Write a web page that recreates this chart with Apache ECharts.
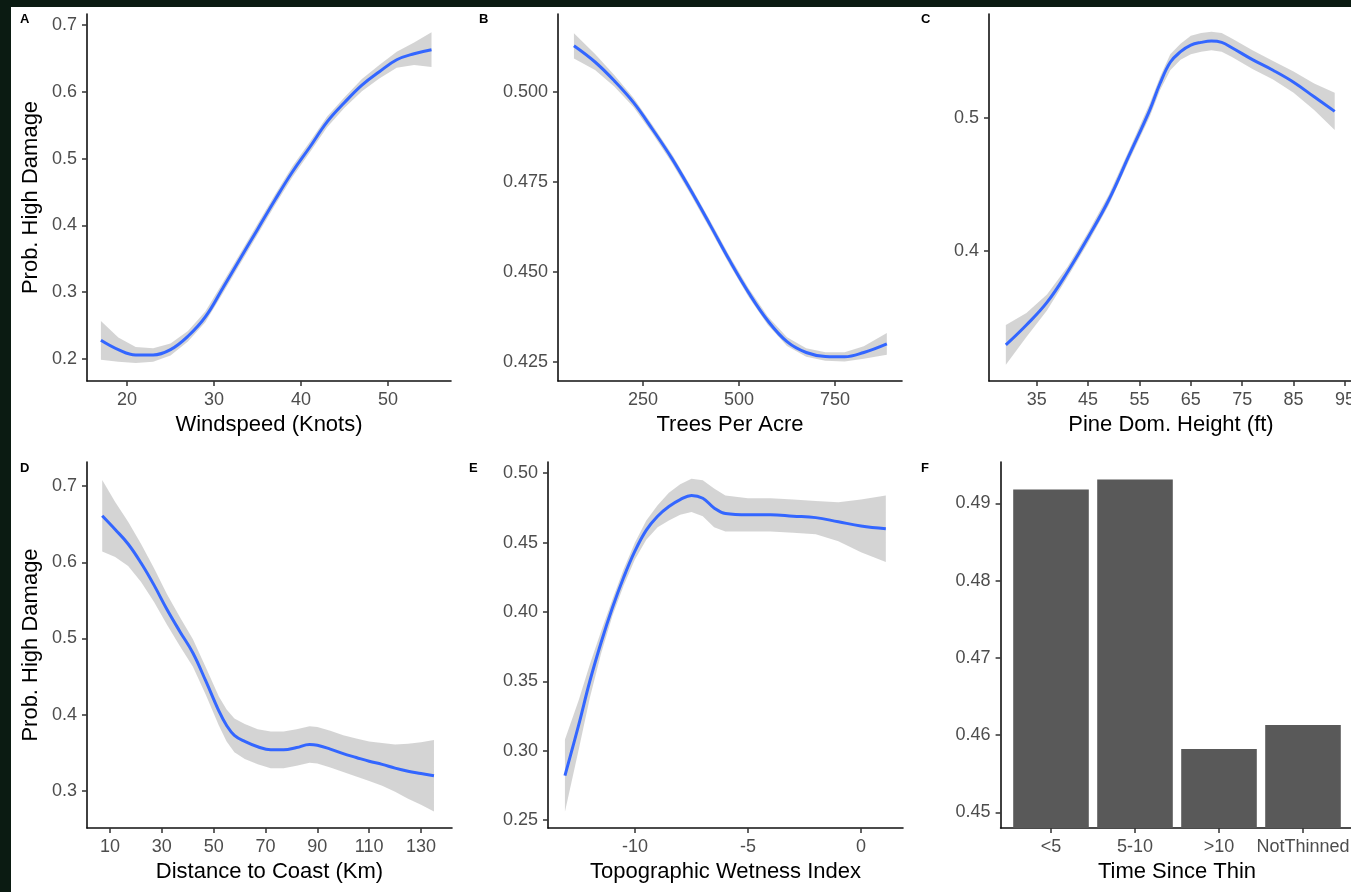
<!DOCTYPE html>
<html><head><meta charset="utf-8">
<script src="https://cdn.jsdelivr.net/npm/echarts@6/dist/echarts.min.js"></script>
<style>html,body{margin:0;padding:0;background:#fff;}#c{width:1351px;height:892px;}</style>
</head><body><div id="c"></div>
<script>
// ---------- Panel A: Windspeed ----------
const windX  = [17,19,21,23,25,27,29,31,33,35,37,39,41,43,45,47,49,51,53,55];
const windY  = [0.228,0.214,0.206,0.206,0.214,0.234,0.263,0.306,0.350,0.394,0.438,0.480,0.517,0.555,0.584,0.610,0.630,0.648,0.657,0.663];
const windLo = [0.199,0.196,0.194,0.196,0.205,0.226,0.255,0.298,0.342,0.386,0.430,0.472,0.509,0.547,0.576,0.601,0.620,0.636,0.640,0.637];
const windHi = [0.257,0.232,0.218,0.216,0.223,0.242,0.271,0.314,0.358,0.402,0.446,0.488,0.525,0.563,0.592,0.619,0.640,0.660,0.674,0.689];
const windTicksX = [20,30,40,50];
const windTicksY = [0.2,0.3,0.4,0.5,0.6,0.7];

// ---------- Panel B: Trees per acre ----------
const tpaX  = [70,125,175,225,275,325,375,425,475,525,575,625,675,725,775,825,885];
const tpaY  = [0.5127,0.5082,0.5030,0.4970,0.4895,0.4815,0.4725,0.4630,0.4533,0.4443,0.4365,0.4307,0.4277,0.4266,0.4265,0.4277,0.4301];
const tpaLo = [0.5092,0.5060,0.5014,0.4957,0.4883,0.4803,0.4713,0.4618,0.4521,0.4431,0.4353,0.4295,0.4265,0.4254,0.4252,0.4260,0.4271];
const tpaHi = [0.5162,0.5104,0.5046,0.4983,0.4907,0.4827,0.4737,0.4642,0.4545,0.4455,0.4377,0.4319,0.4289,0.4278,0.4278,0.4294,0.4331];
const tpaTicksX = [250,500,750];
const tpaTicksY = [0.425,0.450,0.475,0.500];

// ---------- Panel C: Pine dominant height ----------
const pineX  = [29,33,37,41,45,49,53,57,59,61,63,65,67,69,71,73,77,81,85,89,93];
const pineY  = [0.329,0.344,0.361,0.384,0.410,0.438,0.472,0.506,0.526,0.542,0.550,0.555,0.557,0.558,0.557,0.553,0.544,0.536,0.527,0.516,0.505];
const pineLo = [0.314,0.335,0.355,0.380,0.406,0.434,0.468,0.501,0.521,0.536,0.544,0.548,0.550,0.551,0.550,0.546,0.537,0.529,0.519,0.506,0.491];
const pineHi = [0.344,0.353,0.367,0.388,0.414,0.442,0.476,0.511,0.531,0.548,0.556,0.562,0.564,0.565,0.564,0.560,0.551,0.543,0.535,0.526,0.519];
const pineTicksX = [35,45,55,65,75,85,95];
const pineTicksY = [0.4,0.5];

// ---------- Panel D: Distance to coast ----------
const distX  = [7,12,17,22,27,32,37,42,47,52,55,58,62,67,72,77,82,87,90,95,100,105,110,115,120,125,130,135];
const distY  = [0.661,0.643,0.624,0.599,0.570,0.538,0.509,0.481,0.444,0.405,0.386,0.373,0.365,0.358,0.354,0.354,0.357,0.361,0.360,0.355,0.349,0.344,0.339,0.335,0.330,0.326,0.323,0.320];
const distLo = [0.614,0.607,0.595,0.574,0.548,0.518,0.490,0.463,0.426,0.386,0.365,0.351,0.342,0.335,0.330,0.330,0.333,0.337,0.336,0.331,0.325,0.319,0.313,0.307,0.299,0.290,0.282,0.273];
const distHi = [0.708,0.679,0.653,0.624,0.592,0.558,0.528,0.499,0.462,0.424,0.407,0.395,0.388,0.381,0.378,0.378,0.381,0.385,0.384,0.379,0.373,0.369,0.365,0.363,0.361,0.362,0.364,0.367];
const distTicksX = [10,30,50,70,90,110,130];
const distTicksY = [0.3,0.4,0.5,0.6,0.7];

// ---------- Panel E: Topographic wetness index ----------
const twiX  = [-13.1,-12.5,-12,-11.5,-11,-10.5,-10,-9.5,-9,-8.5,-8,-7.5,-7,-6.5,-6,-5,-4,-3,-2,-1,0,1.1];
const twiY  = [0.282,0.318,0.350,0.378,0.403,0.425,0.444,0.459,0.469,0.476,0.481,0.484,0.482,0.475,0.471,0.470,0.470,0.469,0.468,0.465,0.462,0.460];
const twiLo = [0.256,0.300,0.338,0.370,0.397,0.419,0.438,0.452,0.461,0.466,0.470,0.472,0.469,0.461,0.458,0.458,0.458,0.457,0.456,0.451,0.443,0.436];
const twiHi = [0.308,0.336,0.362,0.386,0.409,0.431,0.450,0.466,0.477,0.486,0.492,0.496,0.495,0.489,0.484,0.482,0.482,0.481,0.480,0.479,0.481,0.484];
const twiTicksX = [-10,-5,0];
const twiTicksY = [0.25,0.30,0.35,0.40,0.45,0.50];

// ---------- Panel F: Time since thin ----------
const thinCats   = ['<5','5-10','>10','NotThinned'];
const thinVals   = [0.4918,0.4931,0.4582,0.4613];
const thinTicksY = [0.45,0.46,0.47,0.48,0.49];

const FONT = '"Liberation Sans", Arial, Helvetica, sans-serif';
const BLUE = '#3366FF';
const RIBBON = 'rgba(153,153,153,0.42)';

const grids = [
  {left:87,  top:14,  width:364, height:367},
  {left:558, top:14,  width:344, height:367},
  {left:989, top:14,  width:364, height:367},
  {left:87,  top:462, width:365, height:366},
  {left:548, top:462, width:355, height:366},
  {left:1000.6, top:462, width:352.8, height:366}
].map(g => Object.assign({outerBoundsMode:'none', containLabel:false}, g));

function axisCommon(ticks, fmt) {
  return {
    type:'value', scale:true,
    axisLine:{show:true, onZero:false, lineStyle:{color:'#111', width:1.6}},
    axisTick:{show:true, customValues:ticks, length:5, lineStyle:{color:'#333', width:1.5}},
    axisLabel:{show:true, customValues:ticks, formatter:fmt, color:'#4d4d4d', fontSize:18, fontFamily:FONT, margin:10},
    splitLine:{show:false}, nameMoveOverlap:false
  };
}
function xAx(gi, min, max, ticks, fmt, name) {
  return Object.assign(axisCommon(ticks, fmt), {
    gridIndex:gi, min, max, position:'bottom',
    name, nameLocation:'middle', nameGap:33,
    nameTextStyle:{color:'#000', fontSize:22, fontFamily:FONT}
  });
}
function yAx(gi, min, max, ticks, digits, name) {
  const o = Object.assign(axisCommon(ticks, v => Number(v).toFixed(digits)), {gridIndex:gi, min, max, position:'left'});
  if (name) {
    o.name = name; o.nameLocation = 'middle'; o.nameGap = 45;
    o.nameTextStyle = {color:'#000', fontSize:22, fontFamily:FONT};
  }
  return o;
}
const intFmt = v => String(Math.round(v));

const xAxis = [
  xAx(0, 15.4, 57.24, windTicksX, intFmt, 'Windspeed (Knots)'),
  xAx(1, 28.5, 924.5, tpaTicksX, intFmt, 'Trees Per Acre'),
  xAx(2, 25.72, 96.56, pineTicksX, intFmt, 'Pine Dom. Height (ft)'),
  xAx(3, 1.13, 141.96, distTicksX, intFmt, 'Distance to Coast (Km)'),
  xAx(4, -13.85, 1.86, twiTicksX, intFmt, 'Topographic Wetness Index'),
  xAx(5, 0.4, 4.6, [1,2,3,4], v => thinCats[Math.round(v)-1], 'Time Since Thin')
];
const yAxis = [
  yAx(0, 0.167, 0.7165, windTicksY, 1, 'Prob. High Damage'),
  yAx(1, 0.4198, 0.5215, tpaTicksY, 3, null),
  yAx(2, 0.3018, 0.5784, pineTicksY, 1, null),
  yAx(3, 0.2515, 0.7315, distTicksY, 1, 'Prob. High Damage'),
  yAx(4, 0.2442, 0.5081, twiTicksY, 2, null),
  yAx(5, 0.44797, 0.49535, thinTicksY, 2, null)
];

function ribbon(gi, xs, lo, hi) {
  return {
    type:'custom', xAxisIndex:gi, yAxisIndex:gi, clip:true, silent:true, z:1,
    data: xs.map((x,i) => [x, lo[i], hi[i]]),
    encode:{x:0, y:[1,2]},
    renderItem: function(params, api) {
      if (params.dataIndex !== 0) return null;
      const pts = [];
      for (let i = 0; i < xs.length; i++) pts.push(api.coord([xs[i], hi[i]]));
      for (let i = xs.length - 1; i >= 0; i--) pts.push(api.coord([xs[i], lo[i]]));
      return {type:'polygon', shape:{points:pts}, style:{fill:RIBBON, stroke:null}};
    }
  };
}
function curve(gi, xs, ys) {
  return {
    type:'line', xAxisIndex:gi, yAxisIndex:gi, z:3, smooth:0.4, showSymbol:false, silent:true,
    data: xs.map((x,i) => [x, ys[i]]),
    lineStyle:{color:BLUE, width:3}, itemStyle:{color:BLUE}
  };
}

const series = [
  ribbon(0, windX, windLo, windHi), curve(0, windX, windY),
  ribbon(1, tpaX, tpaLo, tpaHi),    curve(1, tpaX, tpaY),
  ribbon(2, pineX, pineLo, pineHi), curve(2, pineX, pineY),
  ribbon(3, distX, distLo, distHi), curve(3, distX, distY),
  ribbon(4, twiX, twiLo, twiHi),    curve(4, twiX, twiY),
  {
    type:'bar', xAxisIndex:5, yAxisIndex:5, clip:true, barWidth:'90%', silent:true,
    data: thinVals.map((v,i) => [i+1, v]),
    itemStyle:{color:'#595959'}
  }
];

const letters = [['A',20,13],['B',479,13],['C',921,13],['D',20,462],['E',469,462],['F',921,462]];
const graphic = [
  {type:'rect', shape:{x:0,y:0,width:1351,height:7}, style:{fill:'#0b1b12'}, z:100},
  {type:'rect', shape:{x:0,y:0,width:11,height:892}, style:{fill:'#0b1b12'}, z:100}
].concat(letters.map(l => ({
  type:'text', x:l[1], y:l[2], z:50,
  style:{text:l[0], fill:'#000', font:'bold 13px ' + FONT}
})));

const chart = echarts.init(document.getElementById('c'), null, {renderer:'canvas'});
chart.setOption({
  animation:false, backgroundColor:'#fff',
  grid:grids, xAxis, yAxis, series, graphic
});
</script></body></html>
